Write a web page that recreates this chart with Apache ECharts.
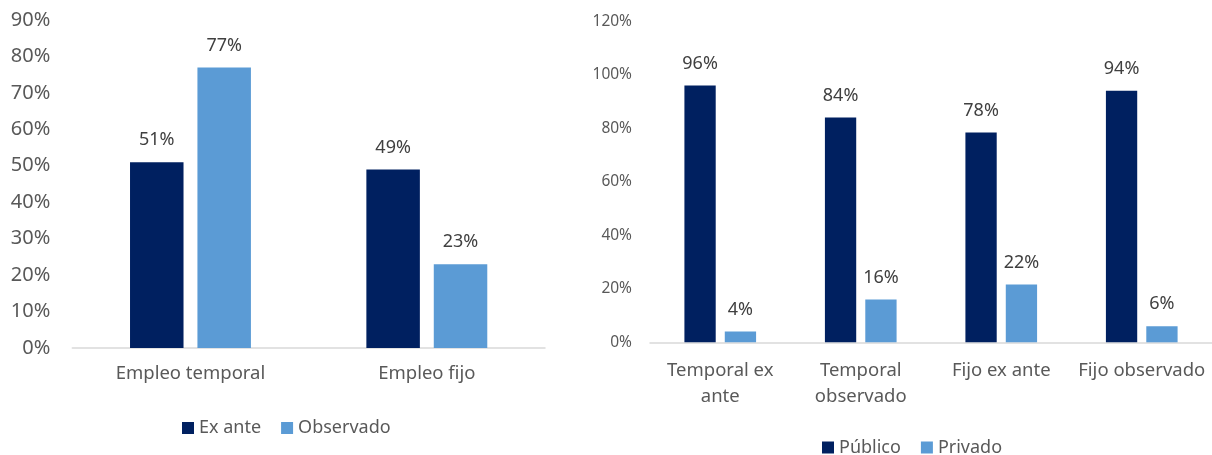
<!DOCTYPE html>
<html>
<head>
<meta charset="utf-8">
<script src="https://cdn.jsdelivr.net/npm/echarts@6/dist/echarts.min.js"></script>
<style>
html,body{margin:0;padding:0;background:#fff;}
#c{width:1212px;height:455px;}
</style>
</head>
<body>
<div id="c"></div>
<script>
// Left chart data
const leftCategories = ['Empleo temporal', 'Empleo fijo'];
const leftExAnte = [51, 49];
const leftObservado = [77, 23];
const leftTicks = [0, 10, 20, 30, 40, 50, 60, 70, 80, 90];

// Right chart data
const rightCategories = ['Temporal ex ante', 'Temporal observado', 'Fijo ex ante', 'Fijo observado'];
const rightTickLabels = ['Temporal ex\nante', 'Temporal\nobservado', 'Fijo ex ante', 'Fijo observado'];
const rightPublico = [96, 84, 78.4, 94];
const rightPrivado = [4, 16, 21.6, 6];
const rightTicks = [0, 20, 40, 60, 80, 100, 120];

const DARK = '#002060';
const LIGHT = '#5B9BD5';
const TXT = '#595959';
const FONT = '"Noto Sans", sans-serif';

const chart = echarts.init(document.getElementById('c'), null, {renderer: 'canvas'});

const pct = v => Math.round(v) + '%';
const dataLabel = {
  show: true, position: 'top', distance: 13,
  color: '#404040', fontSize: 18, fontFamily: FONT,
  formatter: p => pct(p.value)
};

chart.setOption({
  animation: false,
  backgroundColor: '#fff',
  textStyle: {fontFamily: FONT},
  grid: [
    {left: 72.3, top: 20, width: 472.7, height: 328},
    {left: 650, top: 21.3, width: 564, height: 321}
  ],
  xAxis: [
    {
      type: 'category', gridIndex: 0, data: leftCategories,
      axisLine: {lineStyle: {color: '#D9D9D9', width: 1.5}},
      axisTick: {show: false},
      axisLabel: {color: TXT, fontSize: 18.5, fontFamily: FONT, margin: 16}
    },
    {
      type: 'category', gridIndex: 1, data: rightCategories,
      axisLine: {lineStyle: {color: '#D9D9D9', width: 1.5}},
      axisTick: {show: false},
      axisLabel: {
        color: TXT, fontSize: 18.5, fontFamily: FONT, margin: 15, lineHeight: 26,
        interval: 0,
        formatter: (v, i) => rightTickLabels[i]
      }
    }
  ],
  yAxis: [
    {
      type: 'value', gridIndex: 0,
      min: leftTicks[0], max: leftTicks[leftTicks.length - 1], interval: leftTicks[1] - leftTicks[0],
      splitLine: {show: false}, axisLine: {show: false}, axisTick: {show: false},
      axisLabel: {color: TXT, fontSize: 20, fontFamily: FONT, margin: 22, formatter: '{value}%'}
    },
    {
      type: 'value', gridIndex: 1,
      min: rightTicks[0], max: rightTicks[rightTicks.length - 1], interval: rightTicks[1] - rightTicks[0],
      splitLine: {show: false}, axisLine: {show: false}, axisTick: {show: false},
      axisLabel: {color: TXT, fontSize: 15.5, fontFamily: FONT, margin: 18, formatter: '{value}%'}
    }
  ],
  legend: [
    {
      data: ['Ex ante', 'Observado'],
      left: 182, top: 419, padding: 0,
      itemWidth: 12, itemHeight: 12, itemGap: 20,
      icon: 'rect',
      textStyle: {color: TXT, fontSize: 18, fontFamily: FONT},
      itemStyle: {borderWidth: 0}
    },
    {
      data: ['Público', 'Privado'],
      left: 822, top: 438.5, padding: 0,
      itemWidth: 12, itemHeight: 12, itemGap: 20,
      icon: 'rect',
      textStyle: {color: TXT, fontSize: 18, fontFamily: FONT},
      itemStyle: {borderWidth: 0}
    }
  ],
  series: [
    {name: 'Ex ante', type: 'bar', xAxisIndex: 0, yAxisIndex: 0, data: leftExAnte,
     barWidth: 53.5, barGap: '26%', itemStyle: {color: DARK}, label: dataLabel},
    {name: 'Observado', type: 'bar', xAxisIndex: 0, yAxisIndex: 0, data: leftObservado,
     barWidth: 53.5, barGap: '26%', itemStyle: {color: LIGHT}, label: dataLabel},
    {name: 'Público', type: 'bar', xAxisIndex: 1, yAxisIndex: 1, data: rightPublico,
     barWidth: 31.3, barGap: '29%', itemStyle: {color: DARK}, label: dataLabel},
    {name: 'Privado', type: 'bar', xAxisIndex: 1, yAxisIndex: 1, data: rightPrivado,
     barWidth: 31.3, barGap: '29%', itemStyle: {color: LIGHT}, label: dataLabel}
  ]
});
</script>
</body>
</html>
